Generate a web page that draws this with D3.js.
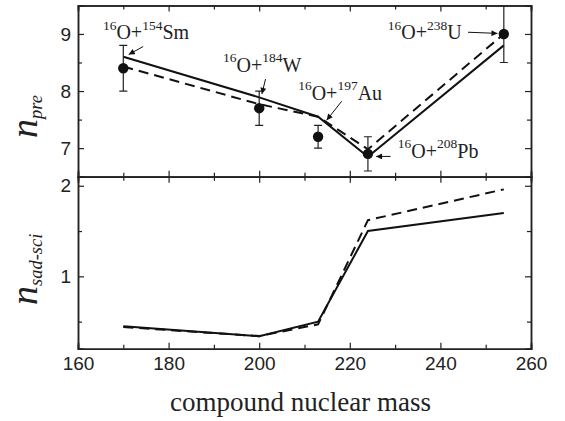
<!DOCTYPE html>
<html>
<head>
<meta charset="utf-8">
<script src="https://cdn.jsdelivr.net/npm/d3@7"></script>
<style>
  body { margin: 0; background: #fff; }
  .tick text { font-family: "Liberation Sans", Arial, sans-serif; font-size: 19px; fill: #222; }
  .axis path, .axis line { stroke: #222; }
  .serif { font-family: "Liberation Serif", "Times New Roman", serif; fill: #222; }
</style>
</head>
<body>
<div id="chart"></div>
<script>
// compound nuclear mass of each system
const mass = [170, 200, 213, 224, 254];
// projectile / target labels
const projectile = ["16", "16", "16", "16", "16"];
const targetA = ["154", "184", "197", "208", "238"];
const targetEl = ["Sm", "W", "Au", "Pb", "U"];

// upper panel: pre-scission neutrons
const nPreExp = [8.4, 7.7, 7.2, 6.9, 9.0];
const nPreErr = [0.4, 0.3, 0.2, 0.3, 0.5];
const nPreSolid = [8.6, 7.89, 7.55, 6.85, 8.8];
const nPreDashed = [8.43, 7.77, 7.55, 6.98, 9.0];

// lower panel: saddle-to-scission neutrons
const nSadSolid = [0.45, 0.34, 0.50, 1.50, 1.70];
const nSadDashed = [0.44, 0.34, 0.47, 1.62, 1.96];

// ticks
const xTicks = [160, 180, 200, 220, 240, 260];
const xMinor = [170, 190, 210, 230, 250];
const preTicks = [7, 8, 9];
const preMinor = [6.5, 7.5, 8.5, 9.5];
const sadTicks = [1, 2];
const sadMinor = [0.5, 1.5];

// annotation placement in data units: text start, arrow from, arrow to
const notes = [
  {text: [165.5, 8.91], from: [174.4, 8.78], to: [171.2, 8.64]},
  {text: [192.0, 8.34], from: [201.4, 8.21], to: [200.6, 7.95]},
  {text: [208.6, 7.85], from: [218.2, 7.82], to: [214.9, 7.49]},
  {text: [230.6, 6.83], from: [229.0, 6.855], to: [225.8, 6.855]},
  {text: [228.4, 8.91], from: [246.1, 9.03], to: [252.6, 9.01]}
];

const W = 565, H = 421;
const left = 78, right = 531;
const top1 = 5.4, mid = 176.7, bot2 = 348.8;

const svg = d3.select("#chart").append("svg")
  .attr("width", W).attr("height", H);

const defs = svg.append("defs");
defs.append("marker")
  .attr("id", "arrow")
  .attr("viewBox", "0 0 10 10")
  .attr("refX", 10).attr("refY", 5)
  .attr("markerWidth", 8).attr("markerHeight", 6)
  .attr("markerUnits", "userSpaceOnUse")
  .attr("orient", "auto")
  .append("path").attr("d", "M0,0 L10,5 L0,10 z").attr("fill", "#111");

const x = d3.scaleLinear().domain([160, 260]).range([left, right]);
const yPre = d3.scaleLinear().domain([6.5, 9.5]).range([mid, top1]);
const ySad = d3.scaleLinear().domain([0.2, 2.1]).range([bot2, mid]);

function frame(y, y0, y1, yTicks, yMinor, showX) {
  const g = svg.append("g").attr("class", "axis");
  // bottom
  g.append("g").attr("transform", `translate(0,${y0})`)
    .call(d3.axisBottom(x).tickValues(xMinor).tickSize(-4).tickFormat(""));
  g.append("g").attr("transform", `translate(0,${y0})`)
    .call(d3.axisBottom(x).tickValues(xTicks).tickSize(-6).tickPadding(8)
      .tickFormat(showX ? d3.format("d") : ""));
  // top
  g.append("g").attr("transform", `translate(0,${y1})`)
    .call(d3.axisTop(x).tickValues(xMinor).tickSize(-4).tickFormat(""));
  g.append("g").attr("transform", `translate(0,${y1})`)
    .call(d3.axisTop(x).tickValues(xTicks).tickSize(-6).tickFormat(""));
  // left
  g.append("g").attr("transform", `translate(${left},0)`)
    .call(d3.axisLeft(y).tickValues(yMinor).tickSize(-4).tickFormat(""));
  g.append("g").attr("transform", `translate(${left},0)`)
    .call(d3.axisLeft(y).tickValues(yTicks).tickSize(-6).tickPadding(7).tickFormat(d3.format("d")));
  // right
  g.append("g").attr("transform", `translate(${right},0)`)
    .call(d3.axisRight(y).tickValues(yMinor).tickSize(-4).tickFormat(""));
  g.append("g").attr("transform", `translate(${right},0)`)
    .call(d3.axisRight(y).tickValues(yTicks).tickSize(-6).tickFormat(""));
  g.selectAll("path.domain").attr("stroke-width", 1.5);
  g.selectAll(".tick line").attr("stroke-width", 1.2);
  return g;
}

function curve(y, vals, dashed) {
  const line = d3.line().x((d, i) => x(mass[i])).y(d => y(d));
  svg.append("path")
    .datum(vals)
    .attr("d", line)
    .attr("fill", "none")
    .attr("stroke", "#111")
    .attr("stroke-width", 2)
    .attr("stroke-dasharray", dashed ? "10,6" : null);
}

svg.append("clipPath").attr("id", "clipTop")
  .append("rect").attr("x", left).attr("y", top1)
  .attr("width", right - left).attr("height", mid - top1);

// upper panel
curve(yPre, nPreSolid, false);
curve(yPre, nPreDashed, true);

const pts = svg.append("g").attr("clip-path", "url(#clipTop)");
const exp = mass.map((m, i) => ({m: m, v: nPreExp[i], e: nPreErr[i]}));
pts.selectAll("line.err").data(exp).enter().append("line")
  .attr("x1", d => x(d.m)).attr("x2", d => x(d.m))
  .attr("y1", d => yPre(d.v - d.e)).attr("y2", d => yPre(d.v + d.e))
  .attr("stroke", "#222").attr("stroke-width", 1.2);
pts.selectAll("line.cap").data(exp.flatMap(d => [d.v - d.e, d.v + d.e].map(v => ({m: d.m, v: v}))))
  .enter().append("line")
  .attr("x1", d => x(d.m) - 4).attr("x2", d => x(d.m) + 4)
  .attr("y1", d => yPre(d.v)).attr("y2", d => yPre(d.v))
  .attr("stroke", "#222").attr("stroke-width", 1.2);
pts.selectAll("circle").data(exp).enter().append("circle")
  .attr("cx", d => x(d.m)).attr("cy", d => yPre(d.v)).attr("r", 5.2)
  .attr("fill", "#111");

// lower panel
curve(ySad, nSadSolid, false);
curve(ySad, nSadDashed, true);

frame(yPre, mid, top1, preTicks, preMinor, false);
frame(ySad, bot2, mid, sadTicks, sadMinor, true);

// annotations
notes.forEach((n, i) => {
  const t = svg.append("text").attr("class", "serif")
    .attr("x", x(n.text[0])).attr("y", yPre(n.text[1]));
  t.append("tspan").attr("font-size", 13.5).attr("dy", -9.5).text(projectile[i]);
  t.append("tspan").attr("font-size", 20).attr("dy", 9.5).text("O+");
  t.append("tspan").attr("font-size", 13.5).attr("dy", -9.5).text(targetA[i]);
  t.append("tspan").attr("font-size", 20).attr("dy", 9.5).text(targetEl[i]);
  svg.append("line")
    .attr("x1", x(n.from[0])).attr("y1", yPre(n.from[1]))
    .attr("x2", x(n.to[0])).attr("y2", yPre(n.to[1]))
    .attr("stroke", "#111").attr("stroke-width", 1)
    .attr("marker-end", "url(#arrow)");
});

// axis titles
function ylabel(sub, yBottom) {
  const t = svg.append("text").attr("class", "serif")
    .attr("transform", `translate(37,${yBottom}) rotate(-90)`)
    .attr("font-style", "italic");
  t.append("tspan").attr("font-size", 38).text("n");
  t.append("tspan").attr("font-size", 18.5).attr("dy", 5).text(sub);
}
ylabel("pre", 138);
ylabel("sad-sci", 305);

svg.append("text").attr("class", "serif")
  .attr("x", 300.5).attr("y", 411)
  .attr("text-anchor", "middle")
  .attr("font-size", 27)
  .text("compound nuclear mass");
</script>
</body>
</html>
